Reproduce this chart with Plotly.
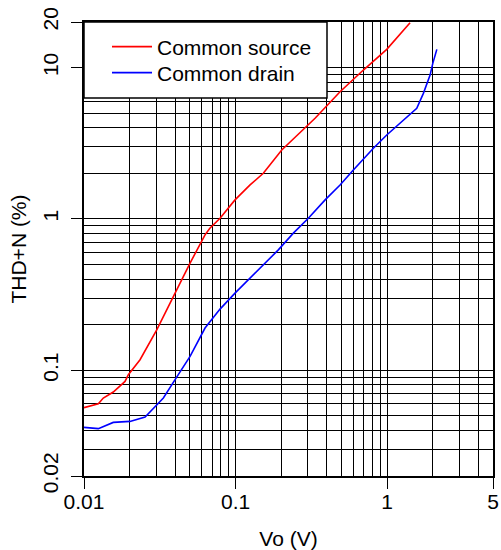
import plotly.graph_objects as go

# ---- data ----
cs_vo = [0.01, 0.01243, 0.01341, 0.0156, 0.01865, 0.01962, 0.02343, 0.0302, 0.0399,
         0.0501, 0.0629, 0.0677, 0.079, 0.0992, 0.1247, 0.1525, 0.2018, 0.3348,
         0.4895, 0.6977, 0.995, 1.418]
cs_thd = [0.0566, 0.0601, 0.0655, 0.0718, 0.0843, 0.0934, 0.1173, 0.185, 0.323,
          0.510, 0.784, 0.868, 1.01, 1.335, 1.676, 2.003, 2.854, 4.62,
          6.92, 9.63, 13.19, 19.76]

cd_vo = [0.01, 0.01243, 0.0156, 0.0201, 0.0253, 0.0302, 0.0334, 0.0399, 0.0501,
         0.0629, 0.079, 0.0992, 0.1247, 0.1525, 0.1916, 0.2407, 0.3023, 0.39,
         0.4895, 0.599, 0.812, 0.995, 1.315, 1.57, 1.736, 1.922, 2.003, 2.13]
cd_thd = [0.0419, 0.0411, 0.0452, 0.0459, 0.0491, 0.0592, 0.0655, 0.0866, 0.1234,
          0.19, 0.2535, 0.323, 0.406, 0.497, 0.624, 0.805, 1.01, 1.335,
          1.676, 2.105, 2.93, 3.585, 4.62, 5.38, 6.75, 8.92, 10.66, 13.19]

series_names = ["Common source", "Common drain"]

x_tickvals = [0.01, 0.1, 1, 5]
x_ticktext = ["0.01", "0.1", "1", "5"]
y_tickvals = [0.02, 0.1, 1, 10, 20]
y_ticktext = ["0.02", "0.1", "1", "10", "20"]

x_grid = [m * 10 ** e for e in (-2, -1, 0) for m in range(1, 10) if m * 10 ** e < 5]
y_grid = [m * 10 ** e for e in (-2, -1, 0, 1) for m in range(1, 10) if 0.02 <= m * 10 ** e <= 20]

FONT = "Arial, Liberation Sans, Helvetica, sans-serif"
FS = 21

W, H = 501, 550
ML, MR, MT, MB = 84, 8, 22, 74
PW, PH = W - ML - MR, H - MT - MB

fig = go.Figure()
fig.add_trace(go.Scatter(x=cs_vo, y=cs_thd, mode="lines", name=series_names[0],
                         line=dict(color="#FF0000", width=1.6), legend="legend"))
fig.add_trace(go.Scatter(x=cd_vo, y=cd_thd, mode="lines", name=series_names[1],
                         line=dict(color="#0000FF", width=1.6), legend="legend2"))

axis_common = dict(
    type="log", showline=True, mirror=True, linecolor="black", linewidth=1.5,
    ticks="outside", ticklen=11, tickcolor="black", tickwidth=1,
    showgrid=True, gridcolor="black", gridwidth=1, zeroline=False,
    tickfont=dict(family=FONT, size=FS, color="black"),
    automargin=False,
)

fig.update_xaxes(
    **axis_common,
    range=[-2, 0.69897],
    tickmode="array", tickvals=x_tickvals, ticktext=x_ticktext,
    ticklabelstandoff=-5,
    minor=dict(tickmode="array", tickvals=x_grid, showgrid=True,
               gridcolor="black", gridwidth=1, ticks=""),
    title=dict(text="Vo (V)", font=dict(family=FONT, size=FS, color="black"), standoff=22),
)
fig.update_yaxes(
    **axis_common,
    range=[-1.69897, 1.30103],
    tickmode="array", tickvals=y_tickvals, ticktext=y_ticktext, tickangle=-90,
    ticklabelstandoff=5,
    minor=dict(tickmode="array", tickvals=y_grid, showgrid=True,
               gridcolor="black", gridwidth=1, ticks=""),
    title=dict(text="THD+N (%)", font=dict(family=FONT, size=FS, color="black"), standoff=6),
)

# legend frame (white box in the top-left corner of the plot)
fig.add_shape(type="rect", xref="paper", yref="paper",
              x0=0, x1=(327 - ML) / PW, y0=1 - (98 - MT) / PH, y1=1,
              fillcolor="white", line=dict(color="black", width=1.5), layer="above")

leg_common = dict(x=(107 - ML) / PW, xanchor="left", yanchor="middle",
                  bgcolor="rgba(0,0,0,0)", borderwidth=0,
                  font=dict(family=FONT, size=FS, color="black"),
                  tracegroupgap=0, itemwidth=40)

fig.update_layout(
    width=W, height=H,
    margin=dict(l=ML, r=MR, t=MT, b=MB),
    paper_bgcolor="white", plot_bgcolor="white",
    font=dict(family=FONT, size=FS, color="black"),
    showlegend=True,
    legend=dict(y=1 - (47 - MT) / PH, **leg_common),
    legend2=dict(y=1 - (73 - MT) / PH, **leg_common),
)

fig.write_html("out.html", config={"displayModeBar": False},
               post_script="document.body.style.margin='0';document.body.style.overflow='hidden';")
